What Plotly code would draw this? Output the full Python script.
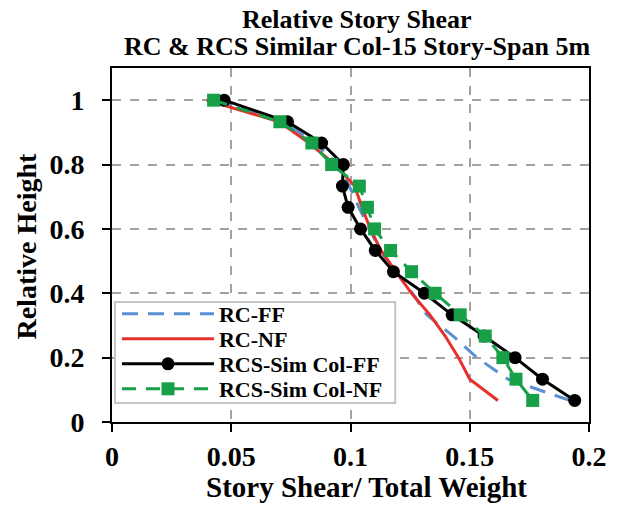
import plotly.graph_objects as go

# Relative height levels (15 stories)
heights = [1.0, 0.933, 0.867, 0.8, 0.733, 0.667, 0.6, 0.533, 0.467, 0.4, 0.333, 0.267, 0.2, 0.133, 0.067]

rc_ff = [0.044, 0.072, 0.085, 0.095, 0.0995, 0.1035, 0.108, 0.1125, 0.119, 0.126, 0.132, 0.143, 0.153, 0.166, 0.192]
rc_nf = [0.0396, 0.0701, 0.0826, 0.0935, 0.1017, 0.1048, 0.1083, 0.1128, 0.119, 0.1256, 0.1333, 0.1397, 0.1453, 0.150, 0.1618]
rcs_ff = [0.047, 0.0736, 0.0879, 0.097, 0.0966, 0.099, 0.1042, 0.1104, 0.118, 0.131, 0.1426, 0.156, 0.169, 0.1805, 0.194]
rcs_nf = [0.0426, 0.0704, 0.0838, 0.0921, 0.1037, 0.1071, 0.1101, 0.1168, 0.1256, 0.1355, 0.146, 0.1565, 0.1639, 0.1694, 0.1764]

x_ticks = [0, 0.05, 0.1, 0.15, 0.2]
x_tick_labels = ["0", "0.05", "0.1", "0.15", "0.2"]
y_ticks = [0, 0.2, 0.4, 0.6, 0.8, 1.0]
y_tick_labels = ["0", "0.2", "0.4", "0.6", "0.8", "1"]

title_lines = ["Relative Story Shear", "RC & RCS Similar Col-15 Story-Span 5m"]
x_title = "Story Shear/ Total Weight"
y_title = "Relative Height"

FONT = "Liberation Serif, Times New Roman, serif"
W, H = 619, 506
ML, MR, MT, MB = 112, 27, 68, 84
PW, PH = W - ML - MR, H - MT - MB


def px(xp):
    return (xp - ML) / PW


def py(yp):
    return (H - MB - yp) / PH


fig = go.Figure()
fig.add_trace(go.Scatter(x=rc_ff, y=heights, mode="lines", name="RC-FF", legend="legend",
                         line=dict(color="#5b8fd3", width=3, dash="16px,10px")))
fig.add_trace(go.Scatter(x=rc_nf, y=heights, mode="lines", name="RC-NF", legend="legend2",
                         line=dict(color="#e8302a", width=3)))
fig.add_trace(go.Scatter(x=rcs_ff, y=heights, mode="lines+markers", name="RCS-Sim Col-FF", legend="legend3",
                         line=dict(color="black", width=3),
                         marker=dict(symbol="circle", size=13, color="black")))
fig.add_trace(go.Scatter(x=rcs_nf, y=heights, mode="lines+markers", name="RCS-Sim Col-NF", legend="legend4",
                         line=dict(color="#17a047", width=3, dash="14px,10px"),
                         marker=dict(symbol="square", size=13, color="#17a047")))

lfont = dict(size=22, family=FONT, color="black", weight="bold")
leg_rows = [314, 339, 364, 389]


def leg(yrow):
    return dict(x=px(117), y=py(yrow), xanchor="left", yanchor="middle",
                bgcolor="rgba(0,0,0,0)", borderwidth=0, font=lfont, itemwidth=92)


fig.update_layout(
    width=W, height=H,
    margin=dict(l=ML, r=MR, t=MT, b=MB),
    paper_bgcolor="white", plot_bgcolor="white",
    font=dict(family=FONT, color="black"),
    showlegend=True,
    hovermode=False,
    legend=leg(leg_rows[0]), legend2=leg(leg_rows[1]),
    legend3=leg(leg_rows[2]), legend4=leg(leg_rows[3]),
)

# legend frame
fig.add_shape(type="rect", xref="paper", yref="paper", x0=px(115), x1=px(397), y0=py(403), y1=py(302),
              fillcolor="white", line=dict(color="#c8c4c0", width=2), layer="above")

tfont = dict(size=26, family=FONT, color="black", weight="bold")
fig.add_annotation(text=title_lines[0], xref="paper", yref="paper", x=px(359), y=py(20),
                   xanchor="center", yanchor="middle", showarrow=False, font=tfont)
fig.add_annotation(text=title_lines[1], xref="paper", yref="paper", x=px(359), y=py(46),
                   xanchor="center", yanchor="middle", showarrow=False, font=tfont)
fig.add_annotation(text=x_title, xref="paper", yref="paper", x=px(368), y=py(487),
                   xanchor="center", yanchor="middle", showarrow=False,
                   font=dict(size=29, family=FONT, color="black", weight="bold"))
fig.add_annotation(text=y_title, xref="paper", yref="paper", x=px(26), y=py(246),
                   xanchor="center", yanchor="middle", showarrow=False, textangle=-90,
                   font=dict(size=28, family=FONT, color="black", weight="bold"))

fig.update_xaxes(
    range=[0, 0.2], tickvals=x_ticks, ticktext=x_tick_labels,
    tickfont=dict(size=28, family=FONT, color="black", weight="bold"),
    showline=True, linecolor="black", linewidth=2, mirror=True,
    ticks="outside", ticklen=8, tickwidth=2, tickcolor="black",
    showgrid=True, gridcolor="#a8a09c", gridwidth=1.5, griddash="dash",
    zeroline=False,
)
fig.update_yaxes(
    range=[0, 1.1], tickvals=y_ticks, ticktext=y_tick_labels,
    tickfont=dict(size=28, family=FONT, color="black", weight="bold"),
    showline=True, linecolor="black", linewidth=2, mirror=True,
    ticks="outside", ticklen=8, tickwidth=2, tickcolor="black",
    showgrid=True, gridcolor="#a8a09c", gridwidth=1.5, griddash="dash",
    zeroline=False, ticklabelstandoff=12,
)

fig.write_html("out.html", config={"displayModeBar": False},
               post_script="document.body.style.margin='0';")
